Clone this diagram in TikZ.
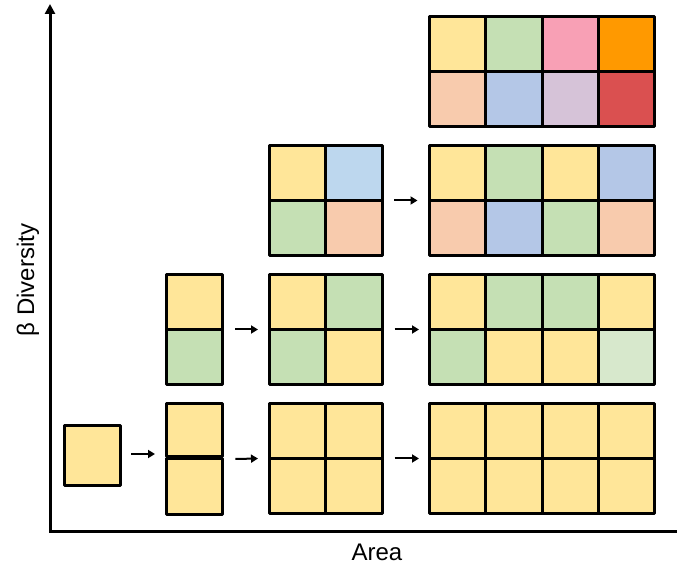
\documentclass[tikz,border=0pt]{standalone}
\usepackage{fontspec}
\setmainfont{Liberation Sans}
\usetikzlibrary{arrows.meta}

\definecolor{cY}{HTML}{FFE699}
\definecolor{cG}{HTML}{C5E0B4}
\definecolor{cP}{HTML}{F8A0B5}
\definecolor{cO}{HTML}{FF9900}
\definecolor{cK}{HTML}{F8CBAD}
\definecolor{cB}{HTML}{B4C7E7}
\definecolor{cL}{HTML}{BDD7EE}
\definecolor{cV}{HTML}{D6C3D8}
\definecolor{cR}{HTML}{DA5050}
\definecolor{cH}{HTML}{D7E8CC}

\tikzset{
  cell/.style={draw=black, line width=3pt, line join=round, rectangle, inner sep=0pt, outer sep=0pt,
               minimum width=56.3pt, minimum height=55pt, anchor=north west},
  steparrow/.style={line width=2pt, -{Triangle[length=7pt,width=8pt]}},
  axisline/.style={line width=3pt, line join=miter},
  label/.style={font=\fontsize{24}{28}\selectfont}
}

% two-row grid of cells: name, left x, top y, top colours, bottom colours
\newcommand\cellgrid[5]{%
  \foreach \c [count=\i from 0] in {#4}
    {\node[cell, fill=\c] (#1-t\i) at ({#2+\i*56.3}, #3) {};}
  \foreach \c [count=\i from 0] in {#5}
    {\node[cell, fill=\c] (#1-b\i) at ({#2+\i*56.3}, {#3+55}) {};}
}

\begin{document}
\begin{tikzpicture}[x=1pt, y=-1pt]
  \useasboundingbox (0,0) rectangle (678,569);

  % axes
  \coordinate (ytop) at (50,4);
  \coordinate (origin) at (50,531.5);
  \coordinate (xend) at (677,531.5);
  \draw[axisline, {Triangle[length=10pt,width=10pt]}-] (ytop) -- (origin) -- (xend);
  \node[label] (xlab) at (377,552) {Area};
  \node[label, rotate=90] (ylab) at (28,280) {β Diversity};

  % row 1: one species everywhere
  \node[cell, fill=cY, minimum height=60pt] (s1) at (64.5,425.5) {};
  \node[cell, fill=cY, minimum height=53pt] (r1c2-t0) at (166.5,403.5) {};
  \node[cell, fill=cY, minimum height=55.5pt] (r1c2-b0) at (166.5,459) {};
  \cellgrid{r1c3}{269.5}{403.5}{cY,cY}{cY,cY}
  \cellgrid{r1c4}{429.5}{403.5}{cY,cY,cY,cY}{cY,cY,cY,cY}

  % row 2: two species
  \cellgrid{r2c2}{166.5}{274.5}{cY}{cG}
  \cellgrid{r2c3}{269.5}{274.5}{cY,cG}{cG,cY}
  \cellgrid{r2c4}{429.5}{274.5}{cY,cG,cG,cY}{cG,cY,cY,cH}

  % row 3: four species
  \cellgrid{r3c3}{269.5}{145.5}{cY,cL}{cG,cK}
  \cellgrid{r3c4}{429.5}{145.5}{cY,cG,cY,cB}{cK,cB,cG,cK}

  % row 4: eight species
  \cellgrid{r4c4}{429.5}{16.5}{cY,cG,cP,cO}{cK,cB,cV,cR}

  % steps of increasing area
  \draw[steparrow] ([xshift=10.5pt,yshift=1.5pt]s1.east) -- ([xshift=-11.5pt,yshift=1.5pt]s1.east -| r1c2-t0.west);
  \draw[steparrow] ([xshift=12.5pt]r1c2-b0.north east) -- ([xshift=-11.5pt]r1c3-b0.north west);
  \draw[steparrow] ([xshift=12.5pt]r1c3-b1.north east) -- ([xshift=-10.5pt]r1c4-b0.north west);
  \draw[steparrow] ([xshift=12.5pt]r2c2-b0.north east) -- ([xshift=-11.5pt]r2c3-b0.north west);
  \draw[steparrow] ([xshift=12.5pt]r2c3-b1.north east) -- ([xshift=-10.5pt]r2c4-b0.north west);
  \draw[steparrow] ([xshift=12pt]r3c3-b1.north east) -- ([xshift=-12pt]r3c4-b0.north west);
\end{tikzpicture}
\end{document}
